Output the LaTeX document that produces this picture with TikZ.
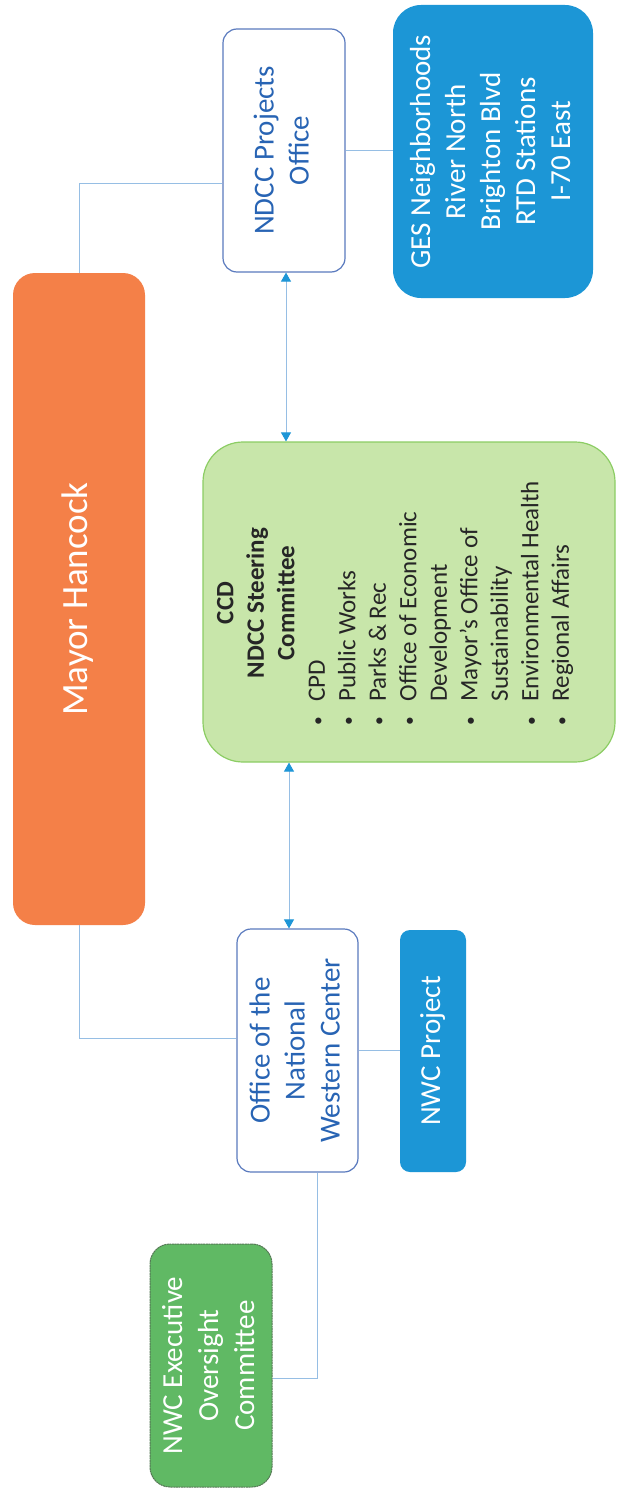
\documentclass[tikz,border=0pt]{standalone}
\usepackage{fontspec}
\setmainfont{Carlito}
\usepackage{graphicx}
\usetikzlibrary{arrows.meta,calc}
\definecolor{orangebox}{RGB}{244,128,72}
\definecolor{bluebox}{RGB}{28,150,214}
\definecolor{steerfill}{RGB}{200,230,170}
\definecolor{steerdraw}{RGB}{140,205,100}
\definecolor{execfill}{RGB}{96,185,100}
\definecolor{execdraw}{RGB}{85,120,85}
\definecolor{wborder}{RGB}{90,122,190}
\definecolor{tblue}{RGB}{40,100,180}
\definecolor{connc}{RGB}{150,190,228}
\definecolor{arrowc}{RGB}{30,150,215}
\newcommand{\rtext}[2]{\rotatebox{90}{\begin{tabular}{@{}#1@{}}#2\end{tabular}}}
\newcommand{\sbul}{\raisebox{1.5pt}{\scalebox{0.7}{\textbullet}}}
\begin{document}
\begin{tikzpicture}[x=1pt,y=-1pt,
  boxbase/.style={rectangle, inner sep=0pt, align=center},
  wbox/.style={boxbase, draw=wborder, line width=1.2pt, fill=white, rounded corners=14pt,
    text=tblue, font=\fontsize{29}{35}\selectfont},
  bbox/.style={boxbase, fill=bluebox, rounded corners=16pt, text=white,
    font=\fontsize{29}{35}\selectfont},
  obox/.style={boxbase, fill=orangebox, rounded corners=22pt, text=white,
    font=\fontsize{37}{44}\selectfont},
  sbox/.style={boxbase, fill=steerfill, draw=steerdraw, line width=1.2pt, rounded corners=40pt},
  stext/.style={boxbase, text=black!85, font=\fontsize{25}{30.5}\selectfont},
  ebox/.style={boxbase, fill=execfill, draw=execdraw, line width=1pt, dashed, dash pattern=on 2pt off 0.6pt,
    rounded corners=20pt, text=white, font=\fontsize{29}{36}\selectfont},
  conn/.style={draw=connc, line width=0.9pt},
  dbl/.style={conn, {Triangle[width=10pt,length=9pt,color=arrowc]}-{Triangle[width=10pt,length=9pt,color=arrowc]}}
]
\useasboundingbox (0,0) rectangle (618,1493);
\fill[white] (0,0) rectangle (618,1493);

% nodes
\node[obox, minimum width=132, minimum height=652] (mayor) at (79,599) {\rtext{c}{Mayor Hancock}};
\node[wbox, minimum width=122, minimum height=243] (ndcc) at (284,150.5) {\rtext{c}{NDCC Projects\\Office}};
\node[bbox, minimum width=200, minimum height=293, rounded corners=28pt] (ges) at (493,151.5)
  {\rtext{c}{GES Neighborhoods\\River North\\Brighton Blvd\\RTD Stations\\I-70 East}};
\node[sbox, minimum width=412, minimum height=320] (steer) at (409,602) {};
\node[stext] (steertext) at (395,603) {\rotatebox{90}{\begin{tabular}{@{}c@{\hspace{15pt}}l@{}}
  \multicolumn{2}{c}{\bfseries CCD}\\
  \multicolumn{2}{c}{\bfseries NDCC Steering}\\
  \multicolumn{2}{c}{\bfseries Committee}\\
  \sbul & CPD\\
  \sbul & Public Works\\
  \sbul & Parks \& Rec\\
  \sbul & Office of Economic\\
   & Development\\
  \sbul & Mayor’s Office of\\
   & Sustainability\\
  \sbul & Environmental Health\\
  \sbul & Regional Affairs
\end{tabular}}};
\node[wbox, minimum width=121, minimum height=243] (office) at (297.5,1050.5)
  {\rtext{c}{Office of the\\National\\Western Center}};
\node[bbox, minimum width=66, minimum height=242, rounded corners=10pt] (nwcp) at (433,1051)
  {\rtext{c}{NWC Project}};
\node[ebox, minimum width=122, minimum height=243] (exec) at (211,1365.5)
  {\rtext{c}{NWC Executive\\Oversight\\Committee}};

% connector coordinates
\coordinate (c1) at (79,183);
\coordinate (c2) at (79,1038);
\coordinate (c3) at (317,1378);
\coordinate (a1) at (286,0);
\coordinate (a2) at (289,0);

% connectors
\draw[conn] (mayor.north) -- (c1) -- (ndcc.west |- c1);
\draw[conn] (ndcc.east) -- (ges.west |- ndcc.east);
\draw[conn] (mayor.south) -- (c2) -- (office.west |- c2);
\draw[conn] (office.east) -- (nwcp.west |- office.east);
\draw[conn] (office.south -| c3) -- (c3) -- (exec.east |- c3);
\draw[dbl] (ndcc.south -| a1) -- (steer.north -| a1);
\draw[dbl] (steer.south -| a2) -- (office.north -| a2);
\end{tikzpicture}
\end{document}
